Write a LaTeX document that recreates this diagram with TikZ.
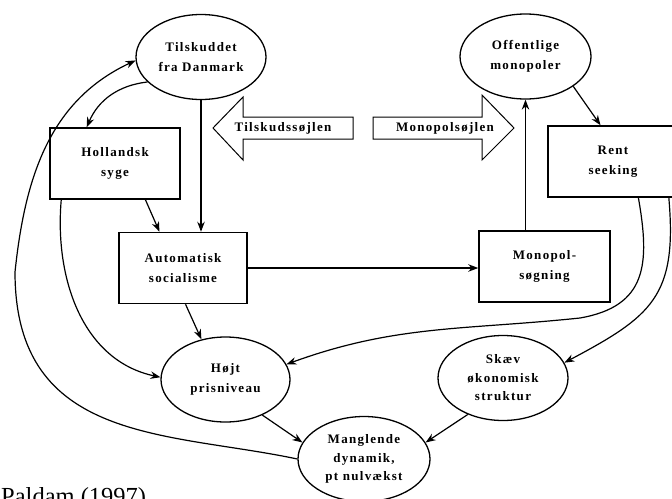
\documentclass[tikz,border=0pt]{standalone}
\usepackage{fontspec}
\setmainfont{Liberation Serif}
\newfontfamily\tekst[LetterSpace=10]{Liberation Serif}
\usetikzlibrary{shapes.geometric,arrows.meta}

\begin{document}
\begin{tikzpicture}[x=1pt,y=-1pt,
		boks/.style={draw,line width=1.5pt,minimum width=130pt,minimum height=71pt,inner sep=0pt,align=center,
			font=\tekst\bfseries\fontsize{13}{20}\selectfont},
		oval/.style={boks,ellipse,line width=1.3pt,minimum height=85pt},
		tre/.style={font=\tekst\bfseries\fontsize{13}{18.5}\selectfont},
		pil/.style={line width=1.2pt,-{Stealth[length=10pt,width=7.5pt]}},
		soejle/.style={draw,line width=1pt},
		soejletekst/.style={inner sep=0pt,font=\tekst\bfseries\fontsize{13}{14}\selectfont}]
	\useasboundingbox (0,0) rectangle (672,498);
	% ellipser og kasser
	\node[oval] (tilskud) at (201,57) {Tilskuddet\\fra Danmark};
	\node[oval,minimum width=131pt] (offentlige) at (525.5,56.5) {Offentlige\\monopoler};
	\node[boks] (hollandsk) at (115,163.5) {Hollandsk\\syge};
	\node[boks,minimum width=128pt] (automatisk) at (183,268) {Automatisk\\socialisme};
	\node[boks] (rent) at (613,161.5) {Rent\\seeking};
	\node[boks,minimum width=131pt] (monopol) at (544.5,266.5) {Monopol-\\søgning};
	\node[oval,minimum width=129pt] (hoejt) at (225.5,379.5) {Højt\\prisniveau};
	\node[oval,tre] (skaev) at (503,378) {Skæv\\økonomisk\\struktur};
	\node[oval,tre,minimum width=132pt] (manglende) at (364,459) {Manglende\\dynamik,\\pt nulvækst};
	% de to søjler
	\draw[soejle] (213,128) -- (243,97) -- (243,117) -- (353,117) -- (353,139) -- (243,139) -- (243,160) -- cycle;
	\node[soejletekst] (tilskudsoejle) at (283,128) {Tilskudssøjlen};
	\draw[soejle] (373,117) -- (482,117) -- (482,95) -- (514,128) -- (482,160) -- (482,139) -- (373,139) -- cycle;
	\node[soejletekst] (monopolsoejle) at (445,128) {Monopolsøjlen};
	% pile
	\draw[pil] (tilskud.205) to[bend right=30] (hollandsk.128);
	\draw[pil] (tilskud.south) -- (tilskud.south |- automatisk.north);
	\draw[pil] (hollandsk.-50) -- (automatisk.123);
	\draw[pil] (hollandsk.214) to[out=-95,in=168] (hoejt.178);
	\draw[pil] (automatisk.-86) -- (hoejt.121);
	\draw[pil] (automatisk.east) -- (automatisk.east -| monopol.west);
	\draw[pil] (offentlige.south |- monopol.north) -- (offentlige.south);
	\draw[pil] (offentlige.-32) -- (rent.109);
	\coordinate (sving) at (580,318);
	\draw[pil] (rent.-55) to[out=-80,in=10,looseness=1.3] (sving) to[out=186,in=20] (hoejt.14);
	\draw[pil] (rent.-33) to[out=-85,in=28,looseness=1.3] (skaev.14);
	\draw[pil] (hoejt.-44) -- (manglende.165);
	\draw[pil] (skaev.226) -- (manglende.15);
	\coordinate (venstre) at (15,272);
	\draw[pil] (manglende.west) to[out=168,in=-90,in looseness=1.3] (venstre) to[out=84,in=205] (tilskud.183);
	\node[anchor=base west,inner sep=0pt,font=\fontsize{24.5}{28}\selectfont] (kilde) at (1,504) {Paldam (1997)};
\end{tikzpicture}
\end{document}
